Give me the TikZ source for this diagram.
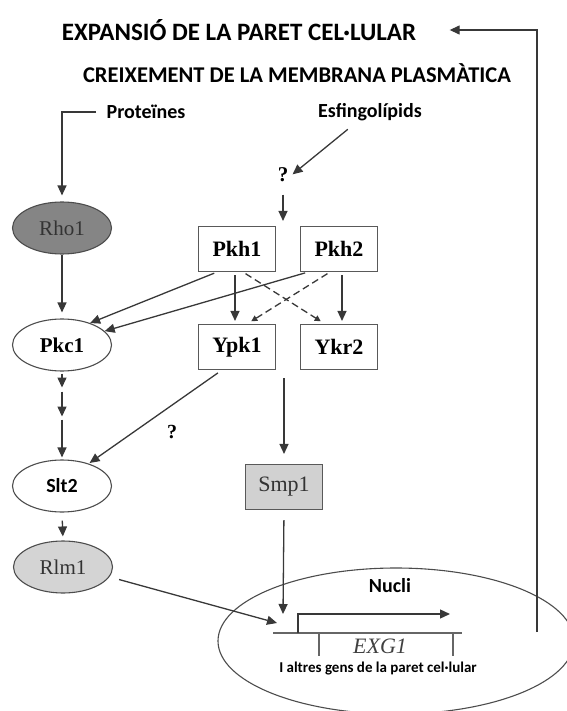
\documentclass[tikz,border=0pt]{standalone}
\usepackage{fontspec}
\setmainfont{Liberation Serif}
\newfontfamily\calibfont{Carlito}
\usetikzlibrary{arrows.meta,shapes.geometric}

\begin{document}
\begin{tikzpicture}[x=1pt,y=-1pt,
  line/.style={draw=black!78, line width=1.3pt},
  arr/.style={line, -{Triangle[length=10pt,width=9pt]}},
  dasharr/.style={line, dashed, dash pattern=on 7pt off 4pt, -{Triangle[length=6pt,width=6pt]}},
  kinase/.style={rectangle, draw=black!65, line width=1.1pt, minimum width=77pt, minimum height=45pt, font=\bfseries\fontsize{22}{22}\selectfont},
  gprot/.style={ellipse, draw=black!70, line width=1.1pt, minimum width=99pt, minimum height=52pt, font=\fontsize{21}{21}\selectfont},
  sans/.style={font=\calibfont\bfseries\fontsize{#1}{#1}\selectfont}]
\useasboundingbox (0,0) rectangle (566,711);

% titles
\node[sans=25] (exp) at (239,30) {EXPANSIÓ DE LA PARET CEL·LULAR};
\node[sans=22.5] (memb) at (297,73) {CREIXEMENT DE LA MEMBRANA PLASMÀTICA};
\node[sans=20] (prot) at (146,112) {Proteïnes};
\node[sans=20] (esf) at (370,112) {Esfingolípids};
\node[font=\bfseries\fontsize{21}{21}\selectfont] (q1) at (283,175) {?};

% left branch
\node[gprot, fill=black!48, text=black!80] (rho) at (62,228) {Rho1};
\node[gprot, fill=white, font=\bfseries\fontsize{21}{21}\selectfont] (pkc) at (62,345) {Pkc1};
\node[gprot, fill=white, sans=20] (slt) at (62,486) {Slt2};
\node[gprot, fill=black!17, text=black!80] (rlm) at (63,567) {Rlm1};

% kinases
\node[kinase] (pkh1) at (237,249) {Pkh1};
\node[kinase] (pkh2) at (339,249) {Pkh2};
\node[kinase] (ypk1) at (237,347) {Ypk1};
\node[kinase] (ykr2) at (339,347) {Ykr2};
\node[kinase, fill=black!18, font=\fontsize{22}{22}\selectfont, text=black!80] (smp) at (284,487) {Smp1};

% nucleus
\node[ellipse, draw=black!70, line width=1.1pt, minimum width=356pt, minimum height=146pt] (nuc) at (396,641) {};
\node[sans=20] (nucli) at (390,586) {Nucli};
\node[font=\itshape\fontsize{22}{22}\selectfont, text=black!75] (exg) at (380,646) {EXG1};
\node[sans=15] (gens) at (378,669) {I altres gens de la paret cel·lular};
\coordinate (dnaL) at (273,633);
\coordinate (dnaR) at (462,633);
\coordinate (tss) at (298,633);
\coordinate (prom) at (283,614);
\coordinate (rlmtip) at (277,623);
\coordinate (fb) at (537,632);
\draw[line, draw=black!60] (dnaL) -- (dnaR);
\draw[arr] (tss) -- ++(0,-19) -- ++(152,0);
\draw[line, draw=black!60] (319,633) -- (319,656);
\draw[line, draw=black!60] (453,633) -- (453,656);

% connectors
\draw[arr] ([xshift=-7pt]prot.west) -| (rho.north) [shorten >=6pt];
\draw[arr, shorten <=8pt, shorten >=1pt] ([xshift=-16pt]esf.south) -- (q1.east);
\draw[arr, shorten <=9pt, shorten >=5pt] (q1.south) -- (q1.south |- pkh1.north);
\draw[arr, shorten >=6pt] (rho.south) -- (pkc.north);
\draw[arr, shorten <=3pt] ([xshift=-20pt]pkh1.south) -- (pkc.38);
\draw[arr, shorten <=3pt] ([xshift=-31pt]pkh2.south) -- (pkc.18);
\draw[arr, shorten <=3pt, shorten >=3pt] ([xshift=-2pt]pkh1.south) -- ([xshift=-2pt]ypk1.north);
\draw[arr, shorten <=3pt, shorten >=3pt] ([xshift=3pt]pkh2.south) -- ([xshift=3pt]ykr2.north);
\draw[dasharr, shorten <=3pt, shorten >=5pt] ([xshift=6pt]pkh1.south) -- ([xshift=-14pt]ykr2.north);
\draw[dasharr, shorten <=3pt, shorten >=5pt] ([xshift=-9pt]pkh2.south) -- ([xshift=10pt]ypk1.north);
\draw[arr, shorten <=2pt] (pkc.south) -- ++(0,16);
\draw[arr, shorten <=20pt] (pkc.south) -- ++(0,45);
\draw[arr, shorten <=48pt, shorten >=2pt] (pkc.south) -- (slt.north);
\draw[arr, shorten <=5pt, shorten >=1pt] ([xshift=-15pt]ypk1.south) -- (slt.40);
\node[font=\bfseries\fontsize{20}{20}\selectfont] (q2) at (172,432) {?};
\draw[arr, shorten <=8pt, shorten >=4pt] (slt.south) -- (rlm.north);
\draw[arr, shorten <=8pt, shorten >=10pt] (smp.north |- ypk1.south) -- (smp.north);
\draw[arr, shorten <=10pt] (smp.south) -- (prom);
\draw[arr, shorten <=10pt] (rlm.-12) -- (rlmtip);
\draw[arr, shorten >=30pt] (fb) |- (exp.east);
\end{tikzpicture}
\end{document}
